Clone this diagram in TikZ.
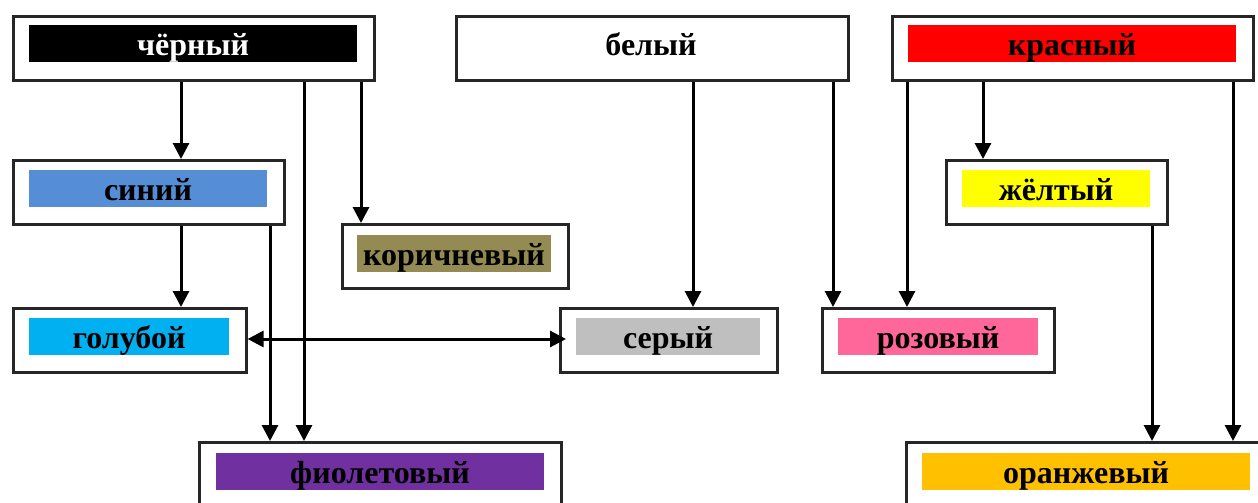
\documentclass[tikz,border=0pt]{standalone}
\usepackage{fontspec}
\setmainfont{Liberation Serif}
\newfontfamily\lblfont{Liberation Serif Bold}
\usetikzlibrary{arrows.meta}
\definecolor{cblue}{HTML}{558ED5}
\definecolor{colive}{HTML}{948A54}
\definecolor{ccyan}{HTML}{00B0F0}
\definecolor{cgray}{HTML}{BFBFBF}
\definecolor{cpink}{HTML}{FF6699}
\definecolor{cyellow}{HTML}{FFFF00}
\definecolor{cpurple}{HTML}{7030A0}
\definecolor{corange}{HTML}{FFC000}
\definecolor{cred}{HTML}{FF0000}
\begin{document}
\begin{tikzpicture}[x=1pt,y=-1pt,
  box/.style={draw=black!85, line width=2.6pt, fill=white, minimum height=64pt, inner sep=0pt, anchor=north west},
  swatch/.style={inner sep=0pt, minimum height=37pt, text height=24pt, text depth=0pt, font=\lblfont\fontsize{32}{32}\selectfont},
  arr/.style={line width=3pt, -{Triangle[length=16pt,width=16pt]}},
  darr/.style={line width=3pt, {Triangle[length=16pt,width=16pt]}-{Triangle[length=16pt,width=16pt]}},
]
\useasboundingbox (0,0) rectangle (1258,503);
\clip (0,0) rectangle (1258,503);
% outer boxes
\node[box, minimum width=361pt] (black) at (12,15) {};
\node[box, minimum width=392pt] (white) at (455,15) {};
\node[box, minimum width=361pt] (red) at (891,15) {};
\node[box, minimum width=271pt] (blue) at (12,159) {};
\node[box, minimum width=221pt] (yellow) at (945,159) {};
\node[box, minimum width=226pt] (brown) at (341,223) {};
\node[box, minimum width=233pt] (cyan) at (12,307) {};
\node[box, minimum width=217pt] (gray) at (559,307) {};
\node[box, minimum width=232pt] (pink) at (821,307) {};
\node[box, minimum width=362pt] (purple) at (198,441) {};
\node[box, minimum width=361pt] (orange) at (905,441) {};
% swatches with labels
\node[swatch, fill=black, text=white, minimum width=328pt] (blackT) at (193,44) {чёрный};
\node[swatch, minimum width=328pt] (whiteT) at (651,44) {белый};
\node[swatch, fill=cred, minimum width=328pt] (redT) at (1072,44) {красный};
\node[swatch, fill=cblue, minimum width=238pt] (blueT) at (148,188.5) {синий};
\node[swatch, fill=cyellow, minimum width=188pt] (yellowT) at (1056,188.5) {жёлтый};
\node[swatch, fill=colive, minimum width=194pt] (brownT) at (454,253) {коричневый};
\node[swatch, fill=ccyan, minimum width=200pt] (cyanT) at (129,336.5) {голубой};
\node[swatch, fill=cgray, minimum width=184pt] (grayT) at (668,336.5) {серый};
\node[swatch, fill=cpink, minimum width=200pt] (pinkT) at (938,336.5) {розовый};
\node[swatch, fill=cpurple, minimum width=328pt] (purpleT) at (380,471.5) {фиолетовый};
\node[swatch, fill=corange, minimum width=328pt] (orangeT) at (1086,471.5) {оранжевый};
% connectors
\draw[arr] (181,0 |- black.south) -- (181,0 |- blue.north);
\draw[arr] (304,0 |- black.south) -- (304,0 |- purple.north);
\draw[arr] (361,0 |- black.south) -- (361,0 |- brown.north);
\draw[arr] (181,0 |- blue.south) -- (181,0 |- cyan.north);
\draw[arr] (270,0 |- blue.south) -- (270,0 |- purple.north);
\draw[darr] (cyan.east |- 0,339) -- ([xshift=7pt]gray.west |- 0,339);
\draw[arr] (693,0 |- white.south) -- (693,0 |- gray.north);
\draw[arr] (833,0 |- white.south) -- (833,0 |- pink.north);
\draw[arr] (907,0 |- red.south) -- (907,0 |- pink.north);
\draw[arr] (983,0 |- red.south) -- (983,0 |- yellow.north);
\draw[arr] (1152,0 |- yellow.south) -- (1152,0 |- orange.north);
\draw[arr] (1233,0 |- red.south) -- (1233,0 |- orange.north);
\end{tikzpicture}
\end{document}
